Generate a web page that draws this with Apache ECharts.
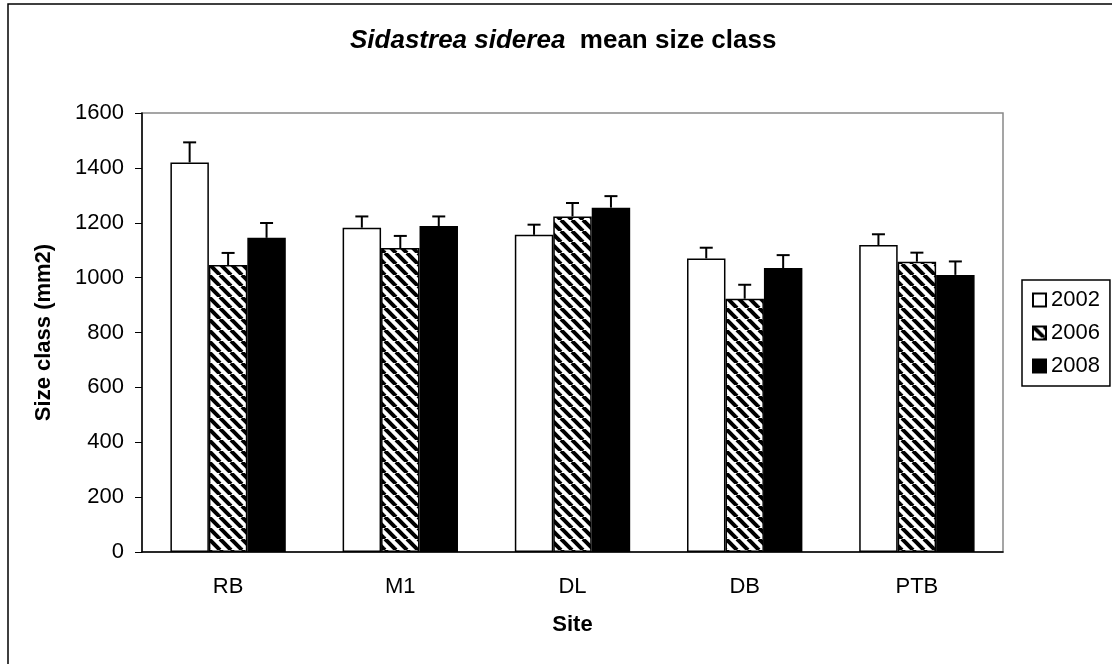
<!DOCTYPE html>
<html>
<head>
<meta charset="utf-8">
<script src="https://cdn.jsdelivr.net/npm/echarts@6/dist/echarts.min.js"></script>
<style>
  html, body { margin: 0; padding: 0; background: #fff; }
  #chart { width: 1112px; height: 664px; }
</style>
</head>
<body>
<div id="chart"></div>
<script>
// values
const sites = ['RB', 'M1', 'DL', 'DB', 'PTB']
const years = ['2002', '2006', '2008']
const mean2002 = [1420, 1182, 1156, 1070, 1119]
const mean2006 = [1046, 1108, 1223, 923, 1058]
const mean2008 = [1145, 1188, 1255, 1035, 1010]
const err2002 = [73, 41, 37, 39, 39]
const err2006 = [44, 44, 49, 51, 33]
const err2008 = [54, 35, 42, 47, 49]
const yTicks = { min: 0, max: 1600, interval: 200 }

const FONT = 'Liberation Sans, Arial, sans-serif'
const GAP = 0.33

// diagonal hatch for 2006
function hatch() {
  const s = 11
  const c = document.createElement('canvas')
  c.width = c.height = s
  const g = c.getContext('2d')
  g.fillStyle = '#fff'
  g.fillRect(0, 0, s, s)
  g.strokeStyle = '#000'
  g.lineWidth = 4
  for (const o of [-s, 0, s]) {
    g.beginPath()
    g.moveTo(o, 0)
    g.lineTo(o + s, s)
    g.stroke()
  }
  return c
}

const fills = ['#ffffff', { image: hatch(), repeat: 'repeat' }, '#000000']
const means = [mean2002, mean2006, mean2008]
const errs = [err2002, err2006, err2008]

// upper error bar with cap, placed over the k-th bar of each group
function errorSeries(k) {
  return {
    type: 'custom',
    name: years[k] + ' err',
    z: 5,
    silent: true,
    encode: { x: 0, y: 1 },
    data: sites.map((s, i) => [i, means[k][i], errs[k][i]]),
    renderItem(params, api) {
      const i = api.value(0)
      const v = api.value(1)
      const e = api.value(2)
      const band = api.size([1, 0])[0]
      const barW = band * (1 - GAP) / 3
      const base = api.coord([i, v])
      const x = base[0] + (k - 1) * barW
      const top = api.coord([i, v + e])[1]
      const st = { stroke: '#000', lineWidth: 2 }
      return {
        type: 'group',
        children: [
          { type: 'line', shape: { x1: x, y1: base[1], x2: x, y2: top }, style: st },
          { type: 'line', shape: { x1: x - 6.5, y1: top, x2: x + 6.5, y2: top }, style: st }
        ]
      }
    }
  }
}

const chart = echarts.init(document.getElementById('chart'))
chart.setOption({
  animation: false,
  backgroundColor: '#fff',
  textStyle: { fontFamily: FONT, color: '#000' },
  title: {
    text: '{i|Sidastrea siderea}  mean size class',
    left: 350,
    top: 28,
    padding: 0,
    textStyle: {
      fontFamily: FONT, fontSize: 26, fontWeight: 'bold', color: '#000',
      rich: { i: { fontFamily: FONT, fontSize: 26, fontWeight: 'bold', fontStyle: 'italic', color: '#000' } }
    }
  },
  graphic: [{
    type: 'rect',
    shape: { x: 8, y: 4, width: 1130, height: 700 },
    style: { fill: 'none', stroke: '#000', lineWidth: 1.5 },
    silent: true
  }],
  legend: {
    data: years,
    icon: 'rect',
    orient: 'vertical',
    left: 1022,
    top: 280,
    padding: [9, 10, 9, 10],
    itemGap: 11,
    itemWidth: 13,
    itemHeight: 13,
    borderColor: '#000',
    borderWidth: 1.5,
    textStyle: { fontFamily: FONT, fontSize: 22, color: '#000' }
  },
  grid: {
    left: 142, top: 113, right: 109, bottom: 112,
    show: true, borderColor: '#888', borderWidth: 1.5
  },
  xAxis: {
    type: 'category',
    data: sites,
    name: 'Site',
    nameLocation: 'middle',
    nameGap: 62,
    nameTextStyle: { fontFamily: FONT, fontSize: 22, fontWeight: 'bold', color: '#000' },
    axisLine: { lineStyle: { color: '#000', width: 1.5 } },
    axisTick: { interval: 0, length: 6, lineStyle: { color: '#000' } },
    axisLabel: { fontFamily: FONT, fontSize: 22, color: '#000', margin: 24 },
    splitLine: { show: false }
  },
  yAxis: {
    type: 'value',
    min: yTicks.min,
    max: yTicks.max,
    interval: yTicks.interval,
    name: 'Size class (mm2)',
    nameLocation: 'middle',
    nameGap: 87,
    nameTextStyle: { fontFamily: FONT, fontSize: 22, fontWeight: 'bold', color: '#000' },
    axisLine: { show: true, lineStyle: { color: '#000', width: 1.5 } },
    axisTick: { show: true, length: 7, lineStyle: { color: '#000' } },
    axisLabel: { fontFamily: FONT, fontSize: 22, color: '#000', margin: 18, formatter: v => String(v) },
    splitLine: { show: false }
  },
  series: years.map((y, k) => ({
    type: 'bar',
    name: y,
    data: means[k],
    barGap: '0%',
    barCategoryGap: (GAP * 100) + '%',
    itemStyle: { color: fills[k], borderColor: '#000', borderWidth: 1.5 }
  })).concat([0, 1, 2].map(errorSeries))
})
</script>
</body>
</html>
